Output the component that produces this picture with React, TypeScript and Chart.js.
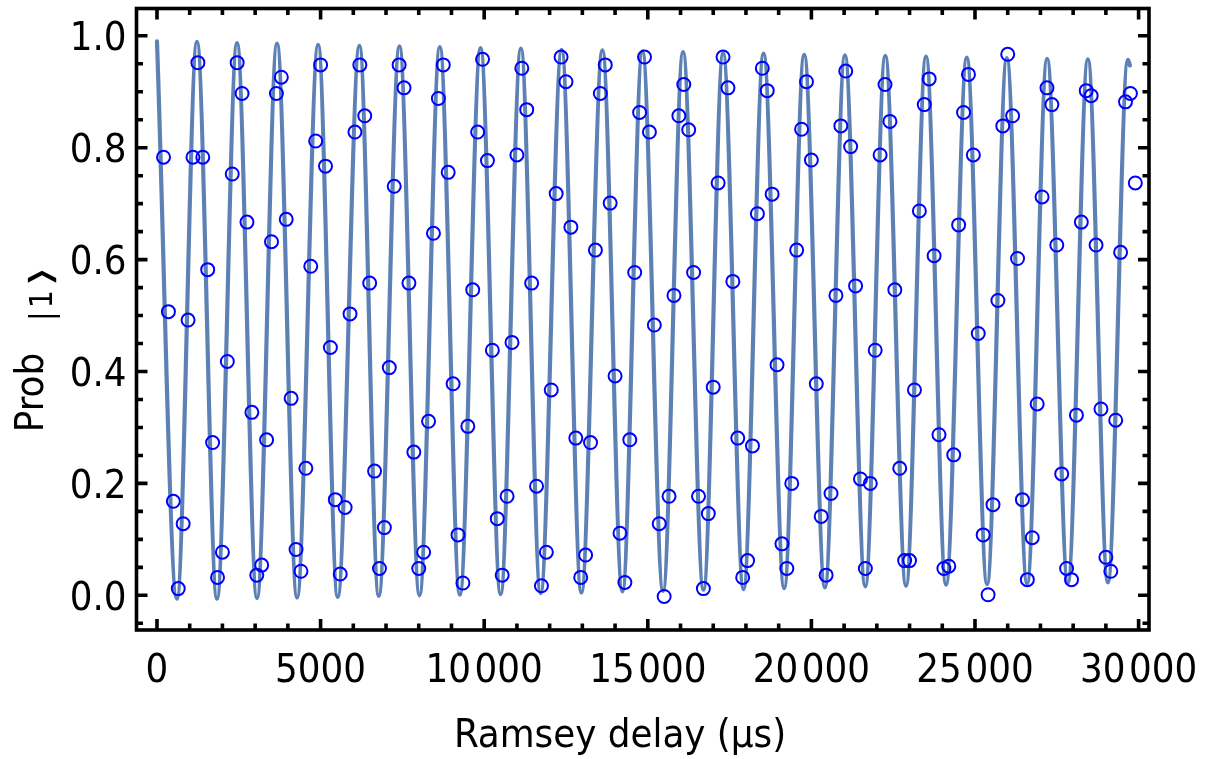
import { useEffect, useRef } from "react";
import { Chart, registerables } from "chart.js";

Chart.register(...registerables);

// Ramsey delay of each measured point (µs)
const delayUs = [
  200, 350, 500, 650, 800, 950, 1100, 1250, 1400, 1550,
  1700, 1850, 2000, 2150, 2300, 2450, 2600, 2750, 2900, 3050,
  3200, 3350, 3500, 3650, 3800, 3950, 4100, 4250, 4400, 4550,
  4700, 4850, 5000, 5150, 5300, 5450, 5600, 5750, 5900, 6050,
  6200, 6350, 6500, 6650, 6800, 6950, 7100, 7250, 7400, 7550,
  7700, 7850, 8000, 8150, 8300, 8450, 8600, 8750, 8900, 9050,
  9200, 9350, 9500, 9650, 9800, 9950, 10100, 10250, 10400, 10550,
  10700, 10850, 11000, 11150, 11300, 11450, 11600, 11750, 11900, 12050,
  12200, 12350, 12500, 12650, 12800, 12950, 13100, 13250, 13400, 13550,
  13700, 13850, 14000, 14150, 14300, 14450, 14600, 14750, 14900, 15050,
  15200, 15350, 15500, 15650, 15800, 15950, 16100, 16250, 16400, 16550,
  16700, 16850, 17000, 17150, 17300, 17450, 17600, 17750, 17900, 18050,
  18200, 18350, 18500, 18650, 18800, 18950, 19100, 19250, 19400, 19550,
  19700, 19850, 20000, 20150, 20300, 20450, 20600, 20750, 20900, 21050,
  21200, 21350, 21500, 21650, 21800, 21950, 22100, 22250, 22400, 22550,
  22700, 22850, 23000, 23150, 23300, 23450, 23600, 23750, 23900, 24050,
  24200, 24350, 24500, 24650, 24800, 24950, 25100, 25250, 25400, 25550,
  25700, 25850, 26000, 26150, 26300, 26450, 26600, 26750, 26900, 27050,
  27200, 27350, 27500, 27650, 27800, 27950, 28100, 28250, 28400, 28550,
  28700, 28850, 29000, 29150, 29300, 29450, 29600, 29750, 29900,
];

// Measured probability of |1>
const probOne = [
  0.783, 0.507, 0.168, 0.012, 0.128, 0.492, 0.783, 0.952, 0.783, 0.582,
  0.273, 0.032, 0.077, 0.418, 0.753, 0.952, 0.897, 0.667, 0.327, 0.036,
  0.054, 0.278, 0.632, 0.897, 0.926, 0.672, 0.352, 0.082, 0.043, 0.227,
  0.588, 0.812, 0.948, 0.767, 0.443, 0.171, 0.038, 0.157, 0.503, 0.828,
  0.948, 0.857, 0.558, 0.222, 0.048, 0.121, 0.407, 0.731, 0.948, 0.907,
  0.558, 0.256, 0.048, 0.077, 0.311, 0.647, 0.888, 0.948, 0.756, 0.378,
  0.108, 0.022, 0.302, 0.546, 0.828, 0.958, 0.777, 0.438, 0.137, 0.036,
  0.177, 0.452, 0.787, 0.942, 0.868, 0.558, 0.195, 0.017, 0.077, 0.367,
  0.718, 0.962, 0.918, 0.658, 0.281, 0.032, 0.072, 0.273, 0.617, 0.897,
  0.948, 0.701, 0.392, 0.111, 0.023, 0.278, 0.577, 0.863, 0.962, 0.828,
  0.483, 0.128, -0.002, 0.177, 0.536, 0.857, 0.913, 0.832, 0.577, 0.177,
  0.012, 0.146, 0.372, 0.737, 0.962, 0.907, 0.561, 0.281, 0.032, 0.062,
  0.267, 0.682, 0.942, 0.902, 0.717, 0.412, 0.092, 0.048, 0.2, 0.617,
  0.833, 0.918, 0.778, 0.378, 0.141, 0.036, 0.182, 0.536, 0.839, 0.937,
  0.802, 0.553, 0.208, 0.048, 0.2, 0.438, 0.787, 0.913, 0.847, 0.546,
  0.227, 0.062, 0.062, 0.367, 0.687, 0.877, 0.923, 0.607, 0.287, 0.048,
  0.052, 0.251, 0.662, 0.863, 0.931, 0.787, 0.468, 0.108, 0.001, 0.162,
  0.527, 0.839, 0.967, 0.857, 0.602, 0.171, 0.028, 0.103, 0.342, 0.712,
  0.907, 0.877, 0.626, 0.217, 0.048, 0.028, 0.322, 0.667, 0.902, 0.893,
  0.626, 0.333, 0.068, 0.043, 0.313, 0.613, 0.882, 0.897, 0.737,
];

// Fit curve: extrema (peaks / troughs), plus the end point
const fitDelayUs = [
  0, 610, 1222, 1834, 2446, 3057, 3669, 4281, 4924, 5523,
  6187, 6778, 7411, 8023, 8644, 9256, 9889, 10501, 11122, 11725,
  12367, 12970, 13612, 14224, 14836, 15466, 16078, 16702, 17302, 17926,
  18538, 19168, 19780, 20413, 21025, 21646, 22258, 22892, 23503, 24115,
  24749, 25370, 25972, 26593, 27205, 27839, 28450, 29062, 29674, 29735,
];
const fitProb = [
  0.99, -0.006, 0.989, -0.006, 0.987, -0.005, 0.986, -0.004, 0.984, -0.003,
  0.982, -0.001, 0.981, 0.0, 0.98, 0.001, 0.978, 0.002, 0.977, 0.004,
  0.975, 0.005, 0.974, 0.007, 0.972, 0.008, 0.971, 0.01, 0.969, 0.011,
  0.968, 0.013, 0.966, 0.014, 0.965, 0.016, 0.964, 0.017, 0.963, 0.019,
  0.961, 0.02, 0.96, 0.021, 0.959, 0.022, 0.958, 0.023, 0.957, 0.947,
];

const xMajorTicks = [0, 5000, 10000, 15000, 20000, 25000, 30000];
const xTickLabels = ["0", "5000", "10\u200a000", "15\u200a000", "20\u200a000", "25\u200a000", "30\u200a000"];
const xMinorTicks = [
  1000, 2000, 3000, 4000, 6000, 7000, 8000, 9000, 11000, 12000, 13000, 14000,
  16000, 17000, 18000, 19000, 21000, 22000, 23000, 24000, 26000, 27000, 28000, 29000,
];
const yMajorTicks = [0, 0.2, 0.4, 0.6, 0.8, 1.0];
const yTickLabels = ["0.0", "0.2", "0.4", "0.6", "0.8", "1.0"];
const yMinorTicks = [-0.05, 0.05, 0.1, 0.15, 0.25, 0.3, 0.35, 0.45, 0.5, 0.55, 0.65, 0.7, 0.75, 0.85, 0.9, 0.95];

const xTitle = "Ramsey delay (\u00b5s)";
const yTitleMain = "Prob";
const yTitleKetBar = "|";
const yTitleKetState = "1";
const yTitleKetClose = "\u27e9";

const W = 1229;
const H = 759;
const FONT_FAMILY = '"DejaVu Sans Condensed", "DejaVu Sans", sans-serif';

export default function App() {
  const ref = useRef<HTMLCanvasElement | null>(null);

  useEffect(() => {
    const canvas = ref.current;
    if (!canvas) return;

    const framePlugin = {
      id: "mmaFrame",
      afterDraw(chart: any) {
        const { ctx, chartArea: a } = chart;
        const xs = chart.scales.x;
        const ys = chart.scales.y;
        ctx.save();

        // frame ticks (inside, all four sides)
        ctx.strokeStyle = "#000";
        ctx.lineWidth = 3.6;
        ctx.lineCap = "butt";
        const MAJ = 11;
        const MIN = 6.5;
        ctx.beginPath();
        const xt = (v: number, len: number) => {
          const p = xs.getPixelForValue(v);
          ctx.moveTo(p, a.bottom);
          ctx.lineTo(p, a.bottom - len);
          ctx.moveTo(p, a.top);
          ctx.lineTo(p, a.top + len);
        };
        const yt = (v: number, len: number) => {
          const p = ys.getPixelForValue(v);
          ctx.moveTo(a.left, p);
          ctx.lineTo(a.left + len, p);
          ctx.moveTo(a.right, p);
          ctx.lineTo(a.right - len, p);
        };
        xMajorTicks.forEach((v) => xt(v, MAJ));
        xMinorTicks.forEach((v) => xt(v, MIN));
        yMajorTicks.forEach((v) => yt(v, MAJ));
        yMinorTicks.forEach((v) => yt(v, MIN));
        ctx.stroke();
        ctx.strokeRect(a.left, a.top, a.right - a.left, a.bottom - a.top);

        // labels
        ctx.font = `40px ${FONT_FAMILY}`;
        const fs = (40 * 91) / ctx.measureText("5000").width;
        ctx.font = `${fs}px ${FONT_FAMILY}`;
        ctx.fillStyle = "#000";
        ctx.textBaseline = "alphabetic";
        ctx.textAlign = "center";
        xMajorTicks.forEach((v, i) => {
          ctx.fillText(xTickLabels[i], xs.getPixelForValue(v), 682);
        });
        ctx.textAlign = "right";
        yMajorTicks.forEach((v, i) => {
          ctx.fillText(yTickLabels[i], 126.5, ys.getPixelForValue(v) + fs * 0.36);
        });
        ctx.textAlign = "center";
        ctx.fillText(xTitle, 620, 747);

        // rotated y title: "Prob" followed by a lowered ket |1⟩
        const pw = ctx.measureText(yTitleMain).width;
        const subFs = fs * 0.8;
        ctx.font = `${subFs}px ${FONT_FAMILY}`;
        const bw = ctx.measureText(yTitleKetBar).width;
        const ow = ctx.measureText(yTitleKetState).width;
        const cw = ctx.measureText(yTitleKetClose).width;
        const stretch = 1.9;
        const gap = 32;
        const total = pw + gap + bw + 3 + ow + 3 + cw * stretch;
        ctx.save();
        ctx.translate(43, 349 + total / 2);
        ctx.rotate(-Math.PI / 2);
        ctx.textAlign = "left";
        ctx.font = `${fs}px ${FONT_FAMILY}`;
        ctx.fillText(yTitleMain, 0, 0);
        ctx.font = `${subFs}px ${FONT_FAMILY}`;
        let cx = pw + gap;
        const dy = 9;
        ctx.fillText(yTitleKetBar, cx, dy);
        cx += bw + 3;
        ctx.fillText(yTitleKetState, cx, dy);
        cx += ow + 3;
        ctx.save();
        ctx.translate(cx, dy);
        ctx.scale(stretch, 1);
        ctx.fillText(yTitleKetClose, 0, 0);
        ctx.restore();
        ctx.restore();

        ctx.restore();
      },
    };

    const chart = new Chart(canvas, {
      type: "scatter",
      data: {
        datasets: [
          {
            label: "data",
            data: delayUs.map((x, i) => ({ x, y: probOne[i] })),
            showLine: false,
            pointStyle: "circle",
            pointRadius: 6.5,
            pointBorderWidth: 2,
            pointBorderColor: "#0000ff",
            pointBackgroundColor: "rgba(0,0,0,0)",
            order: 0,
          },
          {
            label: "fit",
            data: fitDelayUs.map((x, i) => ({ x, y: fitProb[i] })),
            showLine: true,
            borderColor: "#5e81b5",
            borderWidth: 4.2,
            pointRadius: 0,
            cubicInterpolationMode: "monotone",
            borderCapStyle: "round",
            borderJoinStyle: "round",
            fill: false,
            order: 1,
          } as any,
        ],
      },
      options: {
        animation: false,
        responsive: false,
        events: [],
        layout: { padding: { left: 136.5, top: 3.5, right: 80, bottom: 129 } },
        plugins: { legend: { display: false }, tooltip: { enabled: false } },
        scales: {
          x: { type: "linear", min: -626, max: 30318, display: false },
          y: { type: "linear", min: -0.062, max: 1.0488, display: false },
        },
      },
      plugins: [framePlugin],
    });

    return () => chart.destroy();
  }, []);

  return (
    <div style={{ position: "absolute", left: 0, top: 0, width: W, height: H, background: "#fff" }}>
      <canvas ref={ref} width={W} height={H} style={{ display: "block", width: W, height: H }} />
    </div>
  );
}
